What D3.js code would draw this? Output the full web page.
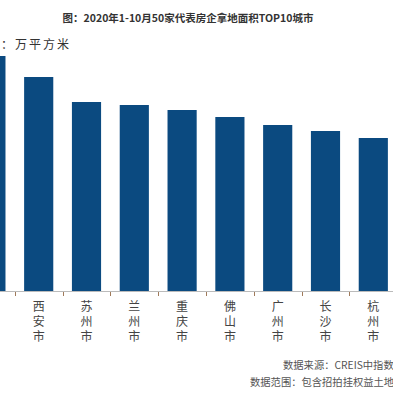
<!DOCTYPE html>
<html>
<head>
<meta charset="utf-8">
<script src="https://cdn.jsdelivr.net/npm/d3@7"></script>
<style>
  body { margin: 0; background: #fff; }
  svg { display: block; }
</style>
</head>
<body>
<svg id="chart"></svg>
<script>
var width = 393,
    height = 393;

// 城市 & 拿地面积（万平方米）
var cities = ["天津市", "西安市", "苏州市", "兰州市", "重庆市", "佛山市", "广州市", "长沙市", "杭州市", "成都市"];
var areas = [1175, 1070, 945, 930, 905, 870, 830, 800, 765, 740];

var titleText = "图：2020年1-10月50家代表房企拿地面积TOP10城市";
var unitText = "单位：万平方米";
var notes = ["数据来源：CREIS中指数据", "数据范围：包含招拍挂权益土地"];

var svg = d3.select("#chart")
    .attr("width", width)
    .attr("height", height);

var baseY = 291;

var x = d3.scaleBand()
    .domain(cities)
    .range([-33, 445])
    .paddingInner(0.39)
    .paddingOuter(0.195);

var y = d3.scaleLinear()
    .domain([0, 1200])
    .range([baseY, 51]);

// title
svg.append("text")
    .attr("x", 188)
    .attr("y", 22)
    .attr("text-anchor", "middle")
    .style("font-family", "'Noto Sans CJK SC', sans-serif")
    .style("font-size", "10.5px")
    .style("font-weight", "bold")
    .style("fill", "#333")
    .text(titleText);

// unit
svg.append("text")
    .attr("x", 71)
    .attr("y", 49)
    .attr("text-anchor", "end")
    .style("font-family", "'Noto Sans CJK SC', sans-serif")
    .style("font-size", "12px")
    .style("letter-spacing", "2px")
    .style("fill", "#333")
    .text(unitText);

// bars
svg.append("g").selectAll("rect")
    .data(cities)
    .enter()
    .append("rect")
        .attr("x", function(d) { return x(d); })
        .attr("y", function(d, i) { return y(areas[i]); })
        .attr("width", x.bandwidth())
        .attr("height", function(d, i) { return baseY - y(areas[i]); })
        .style("fill", "#0b4a80");

// axis line + ticks between categories
svg.append("line")
    .attr("x1", 0).attr("x2", width)
    .attr("y1", baseY + 0.5).attr("y2", baseY + 0.5)
    .style("stroke", "#bbb")
    .style("stroke-width", 1);

svg.append("g").selectAll("line")
    .data(cities.slice(1))
    .enter()
    .append("line")
        .attr("x1", function(d) { return Math.round(x(d) - x.step() * x.paddingInner() / 2) + 0.5; })
        .attr("x2", function(d) { return Math.round(x(d) - x.step() * x.paddingInner() / 2) + 0.5; })
        .attr("y1", baseY + 1)
        .attr("y2", baseY + 5)
        .style("stroke", "#a07a5a")
        .style("stroke-width", 1);

// vertical category labels (only those whose bar centre is on the page)
svg.append("g").selectAll("text")
    .data(cities.filter(function(c) {
        var cx = x(c) + x.bandwidth() / 2;
        return cx > 0 && cx < width;
    }))
    .enter()
    .append("text")
        .attr("x", function(d) { return x(d) + x.bandwidth() / 2; })
        .attr("y", 300)
        .style("writing-mode", "vertical-rl")
        .style("font-family", "'Noto Sans CJK SC', sans-serif")
        .style("font-size", "12px")
        .style("letter-spacing", "3px")
        .style("fill", "#444")
        .text(function(d) { return d; });

// notes
svg.append("text")
    .attr("x", 283)
    .attr("y", 369)
    .style("font-family", "'Noto Sans CJK SC', sans-serif")
    .style("font-size", "10.3px")
    .style("fill", "#555")
    .text(notes[0]);

svg.append("text")
    .attr("x", 250)
    .attr("y", 386)
    .style("font-family", "'Noto Sans CJK SC', sans-serif")
    .style("font-size", "10.3px")
    .style("fill", "#555")
    .text(notes[1]);
</script>
</body>
</html>
